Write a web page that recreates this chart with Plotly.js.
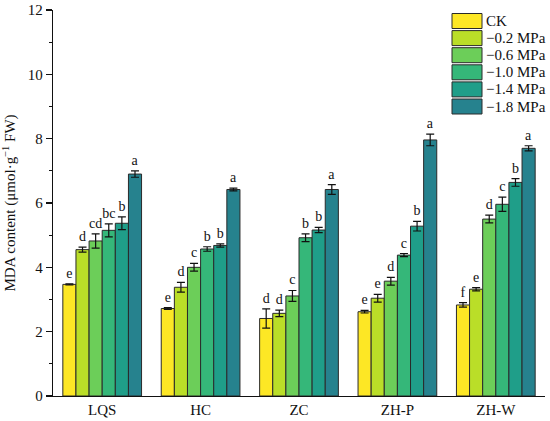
<!DOCTYPE html>
<html>
<head>
<meta charset="utf-8">
<script src="https://cdn.plot.ly/plotly-3.0.1.min.js"></script>
<style>html,body{margin:0;padding:0;background:#fff;}#chart{width:550px;height:421px;}</style>
</head>
<body>
<div id="chart"></div>
<script>
const categories = ["LQS", "HC", "ZC", "ZH-P", "ZH-W"];
const seriesNames = ["CK", "\u22120.2 MPa", "\u22120.6 MPa", "\u22121.0 MPa", "\u22121.4 MPa", "\u22121.8 MPa"];
const seriesColors = ["#FDE725", "#BADE28", "#6CCE59", "#35B779", "#1F9E89", "#26828E"];

const valCK   = [3.47, 2.72, 2.41, 2.62, 2.83];
const val02   = [4.55, 3.38, 2.57, 3.04, 3.32];
const val06   = [4.82, 4.00, 3.11, 3.57, 5.50];
const val10   = [5.15, 4.57, 4.92, 4.38, 5.96];
const val14   = [5.37, 4.68, 5.16, 5.28, 6.64];
const val18   = [6.90, 6.42, 6.42, 7.96, 7.70];

const errCK   = [0.02, 0.03, 0.30, 0.04, 0.07];
const err02   = [0.08, 0.15, 0.10, 0.12, 0.05];
const err06   = [0.22, 0.12, 0.17, 0.12, 0.12];
const err10   = [0.20, 0.07, 0.12, 0.05, 0.22];
const err14   = [0.20, 0.05, 0.08, 0.15, 0.12];
const err18   = [0.10, 0.04, 0.15, 0.18, 0.08];

const letCK   = ["e", "e", "d", "e", "f"];
const let02   = ["d", "d", "d", "e", "e"];
const let06   = ["cd", "c", "c", "d", "d"];
const let10   = ["bc", "b", "b", "c", "c"];
const let14   = ["b", "b", "b", "b", "b"];
const let18   = ["a", "a", "a", "a", "a"];

const values = [valCK, val02, val06, val10, val14, val18];
const errors = [errCK, err02, err06, err10, err14, err18];
const letters = [letCK, let02, let06, let10, let14, let18];

const FONT = "Liberation Serif, Times New Roman, serif";
const traces = [];
values.forEach((vals, i) => {
  traces.push({
    type: "bar",
    x: categories,
    y: vals,
    name: seriesNames[i],
    offsetgroup: String(i),
    marker: {color: seriesColors[i], line: {color: "#2a2a2a", width: 1}},
    error_y: {type: "data", array: errors[i], visible: true, color: "#111", thickness: 1.2, width: 4},
    showlegend: false,
    hoverinfo: "skip"
  });
  traces.push({
    type: "bar",
    x: categories,
    y: vals.map((v, k) => v + errors[i][k]),
    offsetgroup: String(i),
    marker: {color: "rgba(0,0,0,0)", line: {width: 0}},
    text: letters[i],
    textposition: "outside",
    constraintext: "none",
    cliponaxis: false,
    outsidetextfont: {family: FONT, size: 14, color: "#111"},
    showlegend: false,
    hoverinfo: "skip"
  });
});

// custom legend (paper coordinates)
const plotL = 53, plotR = 545, plotT = 10, plotB = 396;
const pw = plotR - plotL, ph = plotB - plotT;
const px = p => (p - plotL) / pw;
const py = p => (plotB - p) / ph;
const shapes = [];
const annotations = [];
seriesNames.forEach((nm, i) => {
  const top = 13.5 + i * 17.1;
  shapes.push({
    type: "rect", xref: "paper", yref: "paper",
    x0: px(452), x1: px(482), y0: py(top + 15), y1: py(top),
    fillcolor: seriesColors[i], line: {color: "#2a2a2a", width: 1}
  });
  annotations.push({
    xref: "paper", yref: "paper", x: px(484), y: py(top + 7.5),
    xanchor: "left", yanchor: "middle", showarrow: false,
    text: nm, font: {family: FONT, size: 15, color: "#111"}
  });
});

const layout = {
  width: 550, height: 421,
  margin: {l: 53, r: 5, t: 10, b: 25},
  paper_bgcolor: "#fff", plot_bgcolor: "#fff",
  barmode: "group", bargap: 0.2, bargroupgap: 0,
  font: {family: FONT, size: 15, color: "#111"},
  showlegend: false,
  xaxis: {
    type: "category", range: [-0.5, 4.5],
    showline: true, linecolor: "#111", linewidth: 1.2,
    ticks: "", showgrid: false, zeroline: false,
    tickfont: {family: FONT, size: 15, color: "#111"}
  },
  yaxis: {
    range: [0, 12], dtick: 2, tick0: 0,
    showline: true, linecolor: "#111", linewidth: 1.2,
    ticks: "outside", ticklen: 6, tickwidth: 1.2, tickcolor: "#111",
    minor: {dtick: 1, ticks: "outside", ticklen: 3, tickwidth: 1.2, tickcolor: "#111", showgrid: false},
    showgrid: false, zeroline: false,
    tickfont: {family: FONT, size: 15, color: "#111"},
    title: {text: "MDA content (\u03bcmol\u00b7g<sup>\u22121</sup> FW)", font: {family: FONT, size: 15, color: "#111"}, standoff: 12}
  },
  shapes: shapes,
  annotations: annotations
};

Plotly.newPlot("chart", traces, layout, {displayModeBar: false, staticPlot: true});
</script>
</body>
</html>
